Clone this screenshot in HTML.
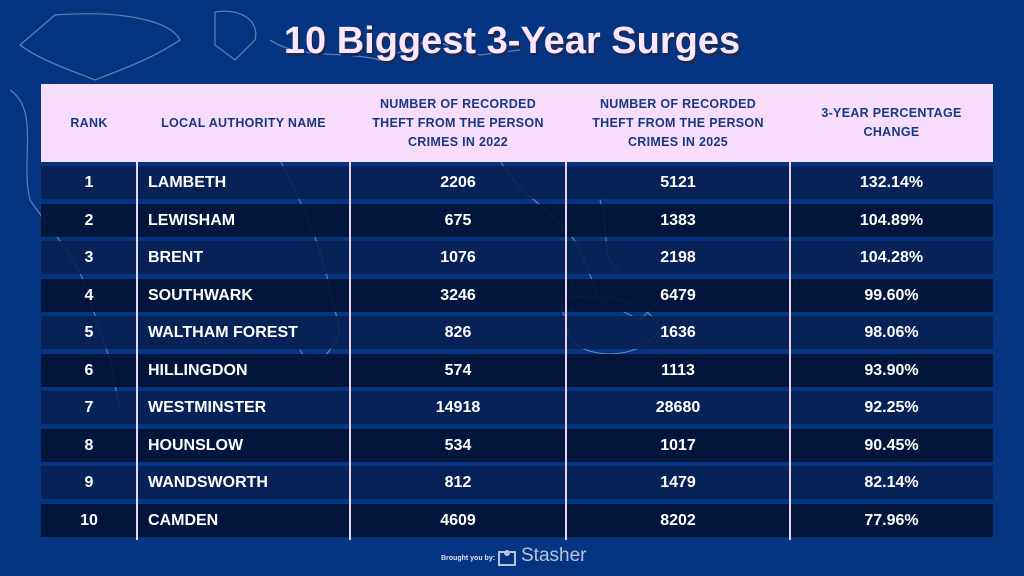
<!DOCTYPE html>
<html><head><style>
body{margin:0;width:1024px;height:576px;background:#053582;overflow:hidden;font-family:"Liberation Sans","DejaVu Sans",sans-serif;position:relative}
.t{position:absolute;left:0;width:1024px;top:20px;text-align:center;font-size:38px;font-weight:bold;color:#fbe6fb;text-shadow:2px 3px 0 #1a2a55;letter-spacing:0px}
.hd{position:absolute;left:41px;top:84px;width:952px;height:78px;background:#f8dcfb}
.hd div{position:absolute;top:0;height:78px;display:flex;align-items:center;justify-content:center;text-align:center;color:#163a82;font-weight:bold;font-size:12.5px;line-height:19px;letter-spacing:0.3px}
.r{position:absolute;left:41px;width:952px;height:33px;color:#fff;font-weight:bold;font-size:16px}
.r span{position:absolute;top:0;line-height:33px;text-align:center}
.vl{position:absolute;top:162px;width:2px;height:378px;background:#e8d4f4}
.f{position:absolute;top:555px;left:441px;color:#dfe4f0;font-size:7px;font-weight:bold}
.s{position:absolute;top:545px;color:#b8c2d8;font-size:19px}
</style></head><body>
<svg style="position:absolute;left:0;top:0" width="1024" height="576"><g fill="none" stroke="#9fb0d6" stroke-width="1.2" opacity="0.6">
<path d="M55 15 C120 10 170 20 180 40 C150 60 120 70 95 80 C70 70 40 60 20 45Z"/>
<path d="M215 12 C240 8 260 20 255 40 L235 60 L215 45Z"/>
<path d="M10 90 C40 110 20 160 30 200 C50 230 80 260 90 300 L110 360 L120 410"/>
<path d="M270 40 C300 60 340 50 380 60 L430 40 L480 55 L520 50"/>
<path d="M280 160 C300 200 320 240 330 290 L340 330 C330 360 310 370 300 350"/>
<path d="M500 160 C520 200 560 210 580 250 L600 300 L640 320 L670 290"/>
<path d="M560 300 C600 290 650 300 660 330 C640 360 590 360 570 340Z"/>
<path d="M600 200 C610 230 600 260 620 270"/>
</g></svg>
<div class="t">10 Biggest 3-Year Surges</div>
<div class="hd">
<div style="left:0;width:96px">RANK</div>
<div style="left:96px;width:213px">LOCAL AUTHORITY NAME</div>
<div style="left:309px;width:216px">NUMBER OF RECORDED<br>THEFT FROM THE PERSON<br>CRIMES IN 2022</div>
<div style="left:525px;width:224px">NUMBER OF RECORDED<br>THEFT FROM THE PERSON<br>CRIMES IN 2025</div>
<div style="left:749px;width:203px">3-YEAR PERCENTAGE<br>CHANGE</div>
</div>
<div id="rows"></div>
<div class="vl" style="left:136px"></div>
<div class="vl" style="left:349px"></div>
<div class="vl" style="left:565px"></div>
<div class="vl" style="left:789px"></div>
<div class="f">Brought you by:</div>
<svg style="position:absolute;left:498px;top:548px" width="18" height="18"><rect x="1" y="4" width="16" height="13" fill="none" stroke="#b8c2d8" stroke-width="2"/><circle cx="9" cy="5" r="3" fill="#b8c2d8"/></svg>
<div class="s" style="left:521px">Stasher</div>
<script>
var d=[["1","LAMBETH","2206","5121","132.14%"],["2","LEWISHAM","675","1383","104.89%"],["3","BRENT","1076","2198","104.28%"],["4","SOUTHWARK","3246","6479","99.60%"],["5","WALTHAM FOREST","826","1636","98.06%"],["6","HILLINGDON","574","1113","93.90%"],["7","WESTMINSTER","14918","28680","92.25%"],["8","HOUNSLOW","534","1017","90.45%"],["9","WANDSWORTH","812","1479","82.14%"],["10","CAMDEN","4609","8202","77.96%"]];
var h="";d.forEach(function(r,i){var y=166+i*37.5;var bg=i%2?"rgba(2,20,55,0.93)":"rgba(8,32,80,0.88)";
h+='<div class="r" style="top:'+y+'px;background:'+bg+'"><span style="left:0;width:96px">'+r[0]+'</span><span style="left:107px;text-align:left">'+r[1]+'</span><span style="left:309px;width:216px">'+r[2]+'</span><span style="left:525px;width:224px">'+r[3]+'</span><span style="left:749px;width:203px">'+r[4]+'</span></div>';});
document.getElementById("rows").innerHTML=h;
</script>
</body></html>
